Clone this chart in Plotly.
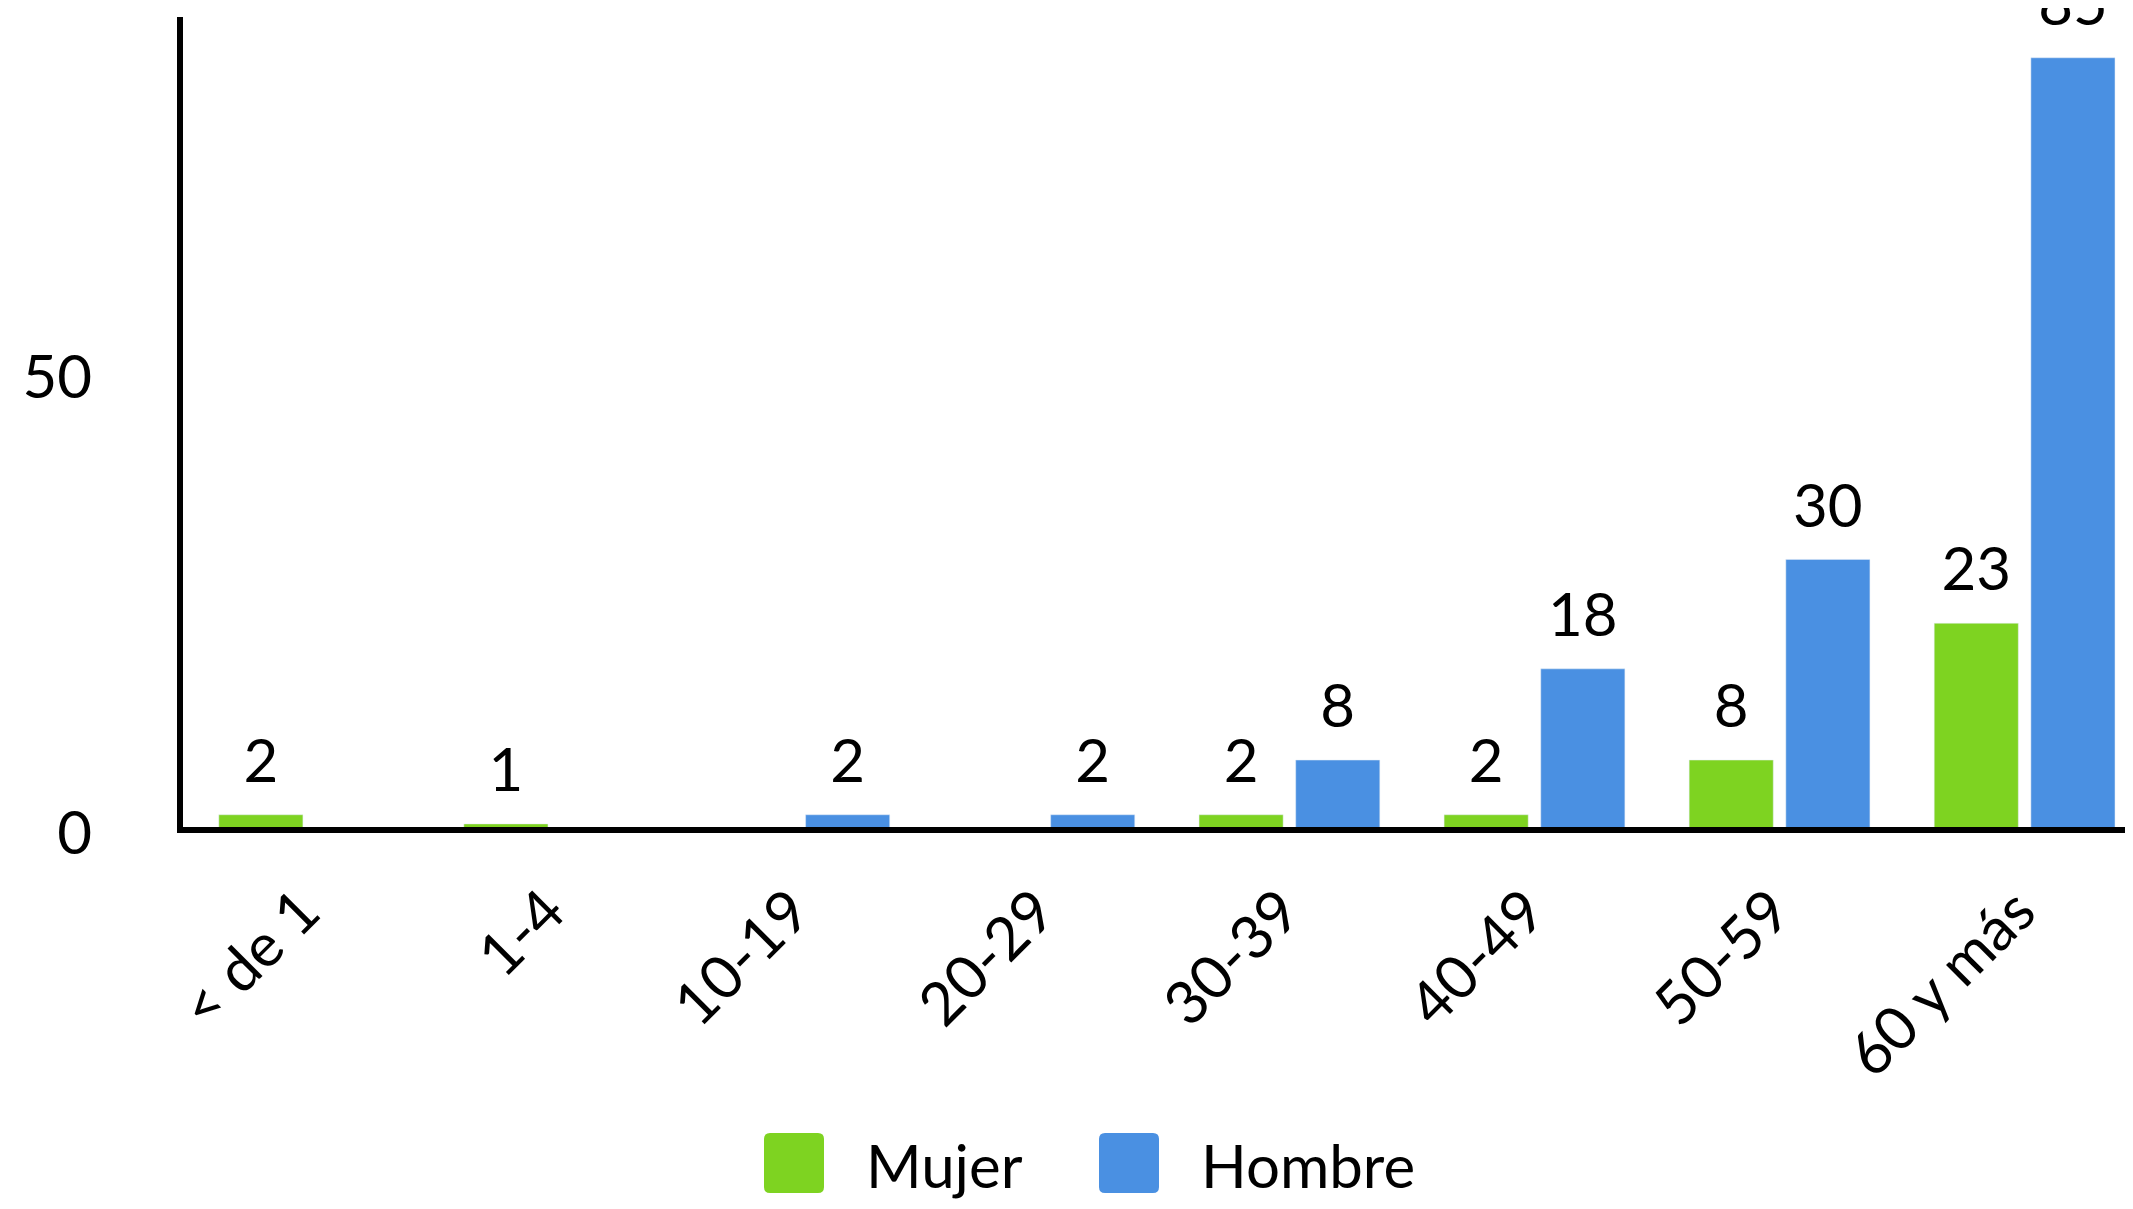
import plotly.graph_objects as go

# Datos
categorias = ["< de 1", "1-4", "10-19", "20-29", "30-39", "40-49", "50-59", "60 y más"]
mujer = [2, 1, None, None, 2, 2, 8, 23]
hombre = [None, None, 2, 2, 8, 18, 30, 85]

VERDE = "#7ED321"
AZUL = "#4A90E2"
FUENTE = "Lato"
TAM = 60

W, H = 2133, 1209
ML, MR, MT, MB = 175, 0, 9, 384
PW, PH = W - ML - MR, H - MT - MB
OFF = 8  # margen del body de la pagina


def px_x(x):
    return (x - OFF - ML) / PW


def px_y(y):
    return (H - MB - (y - OFF)) / PH


def caja_redondeada(x0, y0, x1, y1, r=6):
    # rectangulo con esquinas redondeadas en coordenadas paper
    a, b, c, d = px_x(x0), px_y(y1), px_x(x1), px_y(y0)
    rx, ry = r / PW, r / PH
    return (f"M{a+rx},{b} L{c-rx},{b} Q{c},{b} {c},{b+ry} L{c},{d-ry} Q{c},{d} {c-rx},{d} "
            f"L{a+rx},{d} Q{a},{d} {a},{d-ry} L{a},{b+ry} Q{a},{b} {a+rx},{b} Z")


fig = go.Figure()

series = [("Mujer", mujer, VERDE), ("Hombre", hombre, AZUL)]
for nombre, vals, color in series:
    fig.add_trace(go.Bar(
        x=categorias, y=vals, name=nombre,
        marker=dict(color=color),
        offsetgroup=nombre, cliponaxis=True,
    ))
for nombre, vals, color in series:
    # etiquetas de valor
    fig.add_trace(go.Scatter(
        x=categorias, y=vals, name=nombre,
        mode="markers+text", text=vals, textposition="top center",
        marker=dict(size=27, opacity=0),
        textfont=dict(size=TAM, color="black", family=FUENTE),
        offsetgroup=nombre, cliponaxis=False, hoverinfo="skip",
    ))

# eje x como linea
fig.add_shape(type="line", xref="paper", yref="paper",
              x0=0, x1=1.01, y0=px_y(830), y1=px_y(830),
              line=dict(color="black", width=6), layer="above")

# Leyenda dibujada a mano (cuadros grandes)
leyenda = [("Mujer", VERDE, 764, 864), ("Hombre", AZUL, 1099, 1199)]
for nombre, color, sx, tx in leyenda:
    fig.add_shape(type="path", xref="paper", yref="paper",
                  path=caja_redondeada(sx, 1133, sx + 60, 1193),
                  fillcolor=color, line=dict(width=0))
    fig.add_annotation(x=px_x(tx), y=px_y(1165), xref="paper", yref="paper",
                       text=nombre, showarrow=False, xanchor="left", yanchor="middle",
                       font=dict(size=TAM, color="black", family=FUENTE))

fig.update_layout(
    width=W, height=H,
    margin=dict(l=ML, r=MR, t=MT, b=MB, autoexpand=False),
    paper_bgcolor="white", plot_bgcolor="white",
    barmode="group", bargap=0.211, bargroupgap=0.13,
    scattermode="group", scattergap=0.211,
    showlegend=False,
    font=dict(family=FUENTE, size=TAM, color="black"),
)
fig.update_xaxes(
    range=[-0.515, 7.475],
    showline=False, showgrid=False, zeroline=False,
    tickangle=-45, ticks="",
    ticklabelstandoff=30, ticklabelshift=-7,
    tickfont=dict(size=TAM, family=FUENTE, color="black"),
)
fig.update_yaxes(
    range=[0, 89.47],
    showline=True, linewidth=6, linecolor="black",
    showgrid=False, zeroline=False,
    tickvals=[0, 50], ticks="",
    ticklabelstandoff=73,
    tickfont=dict(size=TAM, family=FUENTE, color="black"),
)

fig.write_html("out.html")
